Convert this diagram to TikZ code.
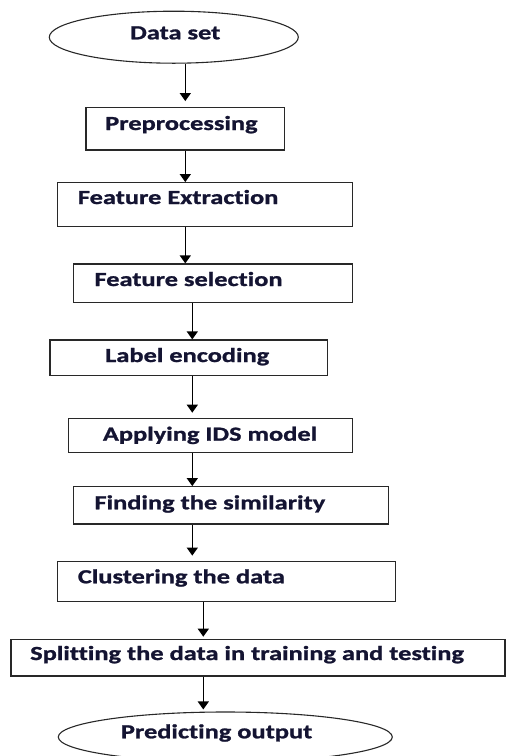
\documentclass[tikz,border=0pt]{standalone}
\usepackage{fontspec}
\setmainfont[FakeStretch=1.32,FakeBold=1.2,Ligatures=NoCommon]{Carlito}
\usetikzlibrary{arrows.meta,shapes.geometric}
\definecolor{ink}{RGB}{20,20,50}
\definecolor{edge}{RGB}{40,40,40}
\begin{document}
\begin{tikzpicture}[x=1pt,y=-1pt,
  box/.style={draw=edge,line width=1.2pt,rectangle,inner sep=0pt},
  oval/.style={draw=edge,line width=1.1pt,ellipse,inner sep=0pt},
  txt/.style={anchor=base west,inner sep=0pt,font=\fontsize{20}{23}\selectfont\bfseries,text=ink},
  arr/.style={line width=1.3pt,-{Triangle[width=11pt,length=8pt]}}]
\useasboundingbox (0,0) rectangle (508,756);
\clip (0,0) rectangle (508,756);
% shapes
\node[oval,minimum width=249pt,minimum height=52pt] (ds) at (173.8,37.2) {};
\node[box,minimum width=198.3pt,minimum height=42.3pt] (pre) at (185.15,128.85) {};
\node[box,minimum width=294.6pt,minimum height=44pt] (fe) at (205,204.7) {};
\node[box,minimum width=279pt,minimum height=38.7pt] (fs) at (212.8,283.35) {};
\node[box,minimum width=277.3pt,minimum height=35.7pt] (le) at (188.65,357.85) {};
\node[box,minimum width=284pt,minimum height=34.4pt] (ids) at (210.3,435.5) {};
\node[box,minimum width=315pt,minimum height=37.3pt] (fts) at (230.8,505.35) {};
\node[box,minimum width=338pt,minimum height=40pt] (cl) at (226.7,581.7) {};
\node[box,minimum width=494pt,minimum height=36.7pt] (sp) at (258,657.65) {};
\node[oval,minimum width=334pt,minimum height=50pt] (po) at (225.3,737) {};
% texts
\node[txt] (tds) at (130,39.3) {Data set};
\node[txt] (tpre) at (105,130) {Preprocessing};
\node[txt] (tfe) at (77.7,204) {Feature Extraction};
\node[txt] (tfs) at (94.3,286) {Feature selection};
\node[txt] (tle) at (105,362) {Label encoding};
\node[txt] (tids) at (102.7,440.7) {Applying IDS model};
\node[txt] (tfts) at (94.3,509.3) {Finding the similarity};
\node[txt] (tcl) at (77.7,583.3) {Clustering the data};
\node[txt] (tsp) at (30,660) {Splitting the data in training and testing};
\node[txt] (tpo) at (120.7,738.3) {Predicting output};
% arrow columns
\coordinate (c1) at (185.3,0);
\coordinate (c2) at (192.3,0);
\coordinate (c3) at (203.3,0);
\draw[arr,shorten >=6pt] (c1 |- ds.south) -- (c1 |- pre.north);
\draw[arr] (c1 |- pre.south) -- (c1 |- fe.north);
\draw[arr] (c1 |- fe.south) -- (c1 |- fs.north);
\draw[arr] (c2 |- fs.south) -- (c2 |- le.north);
\draw[arr,shorten >=5pt] (c2 |- le.south) -- (c2 |- ids.north);
\draw[arr] (c2 |- ids.south) -- (c2 |- fts.north);
\draw[arr,shorten >=5.5pt] (c2 |- fts.south) -- (c2 |- cl.north);
\draw[arr,shorten >=2pt] (c3 |- cl.south) -- (c3 |- sp.north);
\draw[arr,shorten >=2pt] (c3 |- sp.south) -- (c3 |- po.north);
\end{tikzpicture}
\end{document}
